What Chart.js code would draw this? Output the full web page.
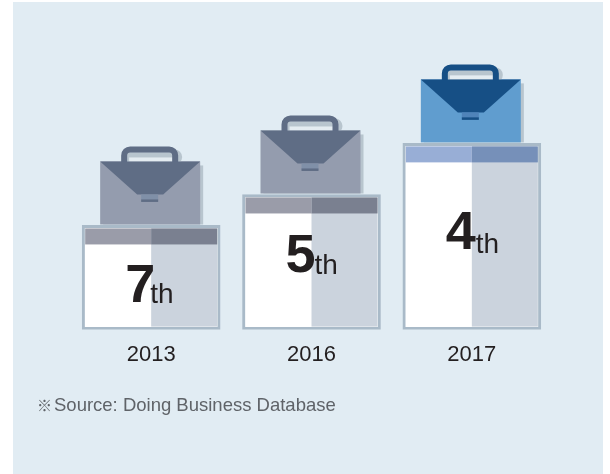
<!DOCTYPE html>
<html>
<head>
<meta charset="utf-8">
<script src="https://cdn.jsdelivr.net/npm/chart.js@4/dist/chart.umd.js"></script>
<style>
    html, body { margin: 0; background: #ffffff; }
    #panel { position: absolute; left: 13px; top: 2px; width: 590px; height: 472px; background: #e1ecf3; }
    #wrap { position: absolute; left: 0; top: 0; width: 610px; height: 474px; }
    #note {
        position: absolute; left: 37px; top: 392px; line-height: 26px;
        font-family: "Liberation Sans", "Noto Sans CJK JP", sans-serif;
        color: #5f6368; white-space: nowrap;
    }
    #note b { font-weight: normal; font-size: 15px; display: inline-block; width: 17px; }
    #note span { font-size: 18.5px; }
</style>
</head>
<body>
<div id="panel"></div>
<div id="wrap"><canvas id="grafikPeringkat" width="610" height="474"></canvas></div>
<div id="note"><b id="noteMark"></b><span id="noteText"></span></div>
<script>
const YEARS = ['2013', '2016', '2017'];
const RANKS = [7, 5, 4];
const RANK_SUFFIX = 'th';
const SOURCE_MARK = '※';
const SOURCE_NOTE = 'Source: Doing Business Database';

// the stands are not to scale: each rank sits on its own step of the axis
const RANK_STOPS = [8, 7, 5, 4, 0];
const STOP_POSITIONS = [0, 0.316, 0.41, 0.565, 1];

// where each rank and suffix is written, measured from the top centre of its stand
const NUMBER_DROP = [77, 78, 106];
const SUFFIX_DROP = [78, 80, 110];
const SUFFIX_SHIFT = [-1, 3, 4];

const PALETTE = [
    { body: '#949cae', flap: '#5f6d85', clasp: '#8090a8', headLeft: '#9a9ca9', headRight: '#7a8090' },
    { body: '#949cae', flap: '#5f6d85', clasp: '#8090a8', headLeft: '#9a9ca9', headRight: '#7a8090' },
    { body: '#609dcf', flap: '#164f85', clasp: '#4f83b9', headLeft: '#98aed6', headRight: '#7690b9' }
];

document.getElementById('noteMark').textContent = SOURCE_MARK;
document.getElementById('noteText').textContent = SOURCE_NOTE;

class RankScale extends Chart.LinearScale {
    getPixelForValue(value) {
        for (let i = 1; i < RANK_STOPS.length; i++) {
            if (value >= RANK_STOPS[i]) {
                const t = (RANK_STOPS[i - 1] - value) / (RANK_STOPS[i - 1] - RANK_STOPS[i]);
                const pos = STOP_POSITIONS[i - 1] + t * (STOP_POSITIONS[i] - STOP_POSITIONS[i - 1]);
                return this.getPixelForDecimal(pos);
            }
        }
        return this.getPixelForDecimal(1);
    }
}
RankScale.id = 'rank';
RankScale.defaults = Chart.LinearScale.defaults;
Chart.register(RankScale);

function drawBriefcase(c, cx, top, colors) {
    const left = cx - 51, right = cx + 49;
    const y0 = top - 64, y1 = top - 1;

    // shadow behind body and handle
    c.fillStyle = '#b8c5ce';
    c.fillRect(left + 3, y0 + 4, 100, y1 - y0 - 4);

    c.fillStyle = colors.body;
    c.fillRect(left, y0, 100, y1 - y0);

    // handle
    c.fillStyle = '#b8c5ce';
    c.beginPath();
    c.roundRect(cx - 28, y0 - 12, 59, 15, 8);
    c.fill();
    c.fillStyle = '#e4ecf1';
    c.fillRect(cx - 22, y0 - 4, 46, 4);
    c.strokeStyle = colors.flap;
    c.lineWidth = 6;
    c.beginPath();
    c.moveTo(cx - 27, y0 + 1);
    c.lineTo(cx - 27, y0 - 6);
    c.arcTo(cx - 27, y0 - 12, cx - 19, y0 - 12, 6);
    c.lineTo(cx + 17, y0 - 12);
    c.arcTo(cx + 24, y0 - 12, cx + 24, y0 - 6, 6);
    c.lineTo(cx + 24, y0 + 1);
    c.stroke();

    // flap
    c.fillStyle = colors.flap;
    c.beginPath();
    c.moveTo(left, y0);
    c.lineTo(right, y0);
    c.lineTo(cx + 12, y0 + 33);
    c.lineTo(cx - 14, y0 + 33);
    c.closePath();
    c.fill();

    // clasp
    c.fillStyle = colors.clasp;
    c.fillRect(cx - 10, y0 + 33, 17, 6);
    c.fillStyle = colors.flap;
    c.fillRect(cx - 10, y0 + 38, 17, 2.5);
}

const standDecor = {
    id: 'standDecor',
    afterDatasetsDraw(chart) {
        const c = chart.ctx;
        const meta = chart.getDatasetMeta(0);
        meta.data.forEach((bar, i) => {
            const colors = PALETTE[i];
            const left = bar.x - bar.width / 2, right = bar.x + bar.width / 2;
            const inset = 3;

            // shaded right half of the stand, then the header band
            c.fillStyle = '#cbd3dd';
            c.fillRect(bar.x, bar.y + inset, right - inset - bar.x, bar.base - bar.y - inset * 2);
            c.fillStyle = colors.headLeft;
            c.fillRect(left + inset, bar.y + inset, bar.x - left - inset, 16);
            c.fillStyle = colors.headRight;
            c.fillRect(bar.x, bar.y + inset, right - inset - bar.x, 16);

            drawBriefcase(c, bar.x, bar.y, colors);

            // rank number, then its smaller suffix
            c.textBaseline = 'alphabetic';
            c.textAlign = 'left';
            c.fillStyle = '#231f20';
            c.font = 'bold 54px "Liberation Sans"';
            c.fillText(String(RANKS[i]), bar.x - 26, bar.y + NUMBER_DROP[i]);
            c.font = '28px "Liberation Sans"';
            c.fillText(RANK_SUFFIX, bar.x + SUFFIX_SHIFT[i], bar.y + SUFFIX_DROP[i]);
        });
    }
};

new Chart(document.getElementById('grafikPeringkat').getContext('2d'), {
    type: 'bar',
    plugins: [standDecor],
    data: {
        labels: YEARS,
        datasets: [
            {
                label: 'Rank',
                data: RANKS,
                base: 8,
                barThickness: 138,
                backgroundColor: '#ffffff',
                borderColor: '#a9bac8',
                borderWidth: 3,
                borderSkipped: false
            }
        ]
    },
    options: {
        responsive: false,
        animation: false,
        layout: {
            padding: { left: 71, right: 58, top: 0, bottom: 102 }
        },
        plugins: {
            legend: { display: false },
            tooltip: { enabled: false }
        },
        scales: {
            x: {
                grid: { display: false },
                border: { display: false },
                ticks: {
                    color: '#231f20',
                    padding: 4,
                    font: { family: '"Liberation Sans"', size: 22 }
                }
            },
            y: {
                type: 'rank',
                display: false,
                min: 0,
                max: 8
            }
        }
    }
});
</script>
</body>
</html>
